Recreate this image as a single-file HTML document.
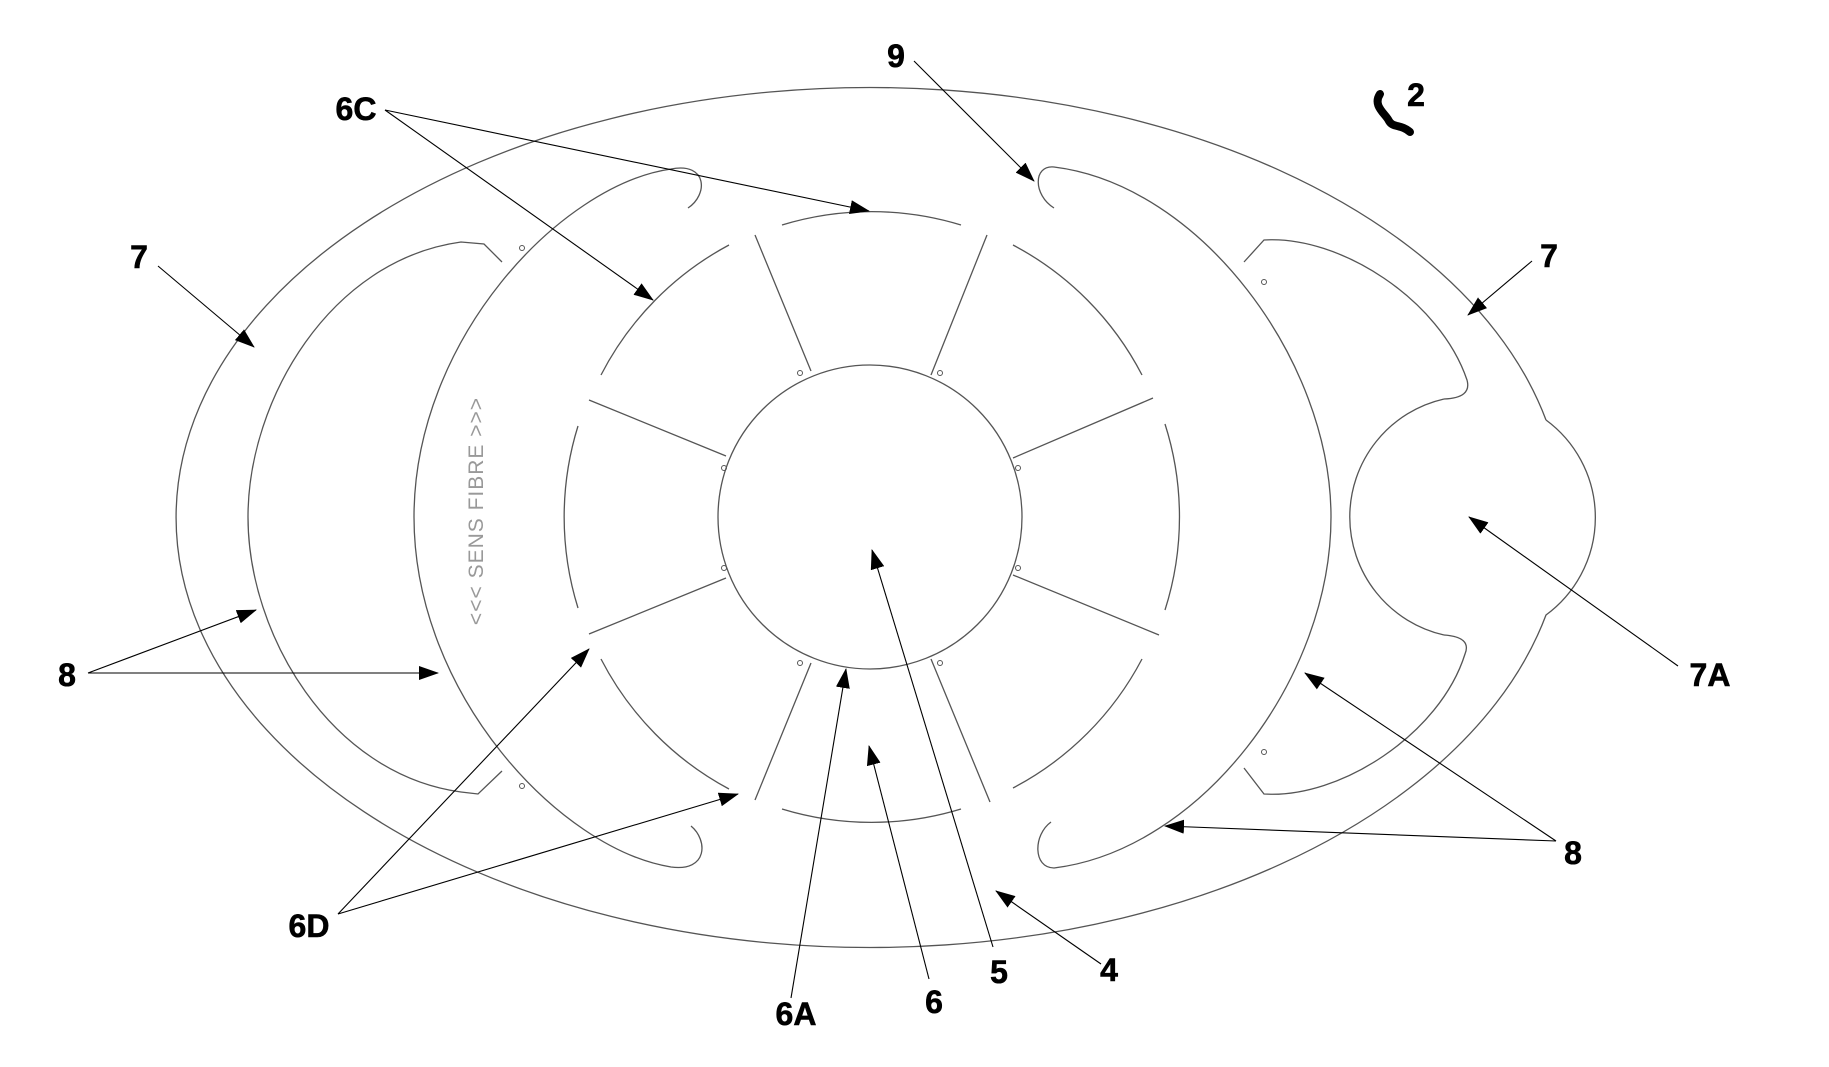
<!DOCTYPE html>
<html><head><meta charset="utf-8"><style>
html,body{margin:0;padding:0;background:#fff;}
svg{display:block}
text.l{font-family:"Liberation Sans Narrow","Liberation Sans",sans-serif;font-weight:bold;font-size:32px;fill:#000;text-anchor:middle;stroke:#000;stroke-width:0.6}
</style></head><body>
<svg width="1829" height="1067" viewBox="0 0 1829 1067" xmlns="http://www.w3.org/2000/svg">
<defs>
<marker id="a" markerWidth="20" markerHeight="14" refX="19" refY="7" orient="auto" markerUnits="userSpaceOnUse">
<path d="M0,0 L20,7 L0,14 Z" fill="#000"/>
</marker>
</defs>
<g fill="none" stroke="#555" stroke-width="1.3">
<path d="M1546,420 A694 430 0 1 0 1546,615 A121 121 0 0 0 1546,420"/>
<path d="M1444,399 A121 121 0 0 0 1444,635"/>
<path d="M1244,262 L1264,240 C1340,235 1440,300 1467,380 Q1472,398 1444,399"/>
<path d="M1444,635 Q1472,637 1465,654 C1440,734 1340,799 1264,794 L1244,768"/>
<path d="M502,262 L484,244 L461,242 C330,260 248,400 248,517 C248,634 330,774 461,792 L478,794 L502,771"/>
<path d="M688,208 C708,195 708,162 671,169 C560,185 414,340 414,517 C414,694 560,849 671,867 C708,872 708,840 691,826"/>
<path d="M1054,208 C1033,195 1033,165 1054,167 C1200,185 1331,360 1331,517 C1331,680 1200,850 1054,868 C1033,868 1033,835 1051,822"/>
<circle cx="870" cy="517" r="152"/>
<path d="M782,225 A306 306 0 0 1 961,225"/>
<path d="M1013,245 A306 306 0 0 1 1142,375"/>
<path d="M1165,424 A306 306 0 0 1 1165,610"/>
<path d="M1142,659 A306 306 0 0 1 1013,788"/>
<path d="M961,809 A306 306 0 0 1 782,809"/>
<path d="M729,789 A306 306 0 0 1 601,659"/>
<path d="M578,608 A306 306 0 0 1 578,426"/>
<path d="M601,375 A306 306 0 0 1 729,245"/>
<path d="M755,235 L811,371 M987,235 L931,375 M589,400 L726,456 M1153,398 L1013,458 M589,634 L726,578 M1159,635 L1013,575 M755,800 L811,663 M990,802 L931,659"/>
<g stroke-width="1">
<circle cx="800" cy="373" r="2.5"/><circle cx="940" cy="373" r="2.5"/>
<circle cx="724" cy="468" r="2.5"/><circle cx="1018" cy="468" r="2.5"/>
<circle cx="724" cy="568" r="2.5"/><circle cx="1018" cy="568" r="2.5"/>
<circle cx="800" cy="663" r="2.5"/><circle cx="940" cy="663" r="2.5"/>
<circle cx="522" cy="248" r="2.5"/><circle cx="522" cy="786" r="2.5"/>
<circle cx="1264" cy="282" r="2.5"/><circle cx="1264" cy="752" r="2.5"/>
</g>
</g>
<text x="0" y="0" transform="translate(483,511) rotate(-90)" font-family="Liberation Sans, sans-serif" font-size="21" fill="#999" text-anchor="middle" letter-spacing="1">&lt;&lt;&lt; SENS FIBRE &gt;&gt;&gt;</text>
<g stroke="#000" stroke-width="1.1" fill="none" marker-end="url(#a)">
<line x1="385" y1="110" x2="869" y2="211"/>
<line x1="385" y1="110" x2="653" y2="300"/>
<line x1="914" y1="61" x2="1034" y2="181"/>
<line x1="158" y1="266" x2="254" y2="347"/>
<line x1="1532" y1="261" x2="1468" y2="315"/>
<line x1="88" y1="673" x2="256" y2="610"/>
<line x1="88" y1="673" x2="438" y2="673"/>
<line x1="1678" y1="666" x2="1469" y2="517"/>
<line x1="1556" y1="841" x2="1305" y2="673"/>
<line x1="1556" y1="841" x2="1165" y2="826"/>
<line x1="338" y1="914" x2="589" y2="649"/>
<line x1="338" y1="914" x2="738" y2="794"/>
<line x1="791" y1="998" x2="846" y2="669"/>
<line x1="929" y1="979" x2="869" y2="746"/>
<line x1="993" y1="947" x2="872" y2="550"/>
<line x1="1101" y1="964" x2="996" y2="891"/>
</g>
<path d="M1380,94 C1372,106 1386,114 1389,121 C1393,128 1401,124 1410,132" stroke="#000" stroke-width="8" fill="none" stroke-linecap="round"/>
<g>
<text class="l" x="356" y="120">6C</text>
<text class="l" x="896" y="67">9</text>
<text class="l" x="1416" y="106">2</text>
<text class="l" x="139" y="268">7</text>
<text class="l" x="1549" y="267">7</text>
<text class="l" x="67" y="686">8</text>
<text class="l" x="1710" y="686">7A</text>
<text class="l" x="1573" y="864">8</text>
<text class="l" x="309" y="937">6D</text>
<text class="l" x="796" y="1025">6A</text>
<text class="l" x="934" y="1013">6</text>
<text class="l" x="999" y="983">5</text>
<text class="l" x="1109" y="981">4</text>
</g>
</svg>
</body></html>
